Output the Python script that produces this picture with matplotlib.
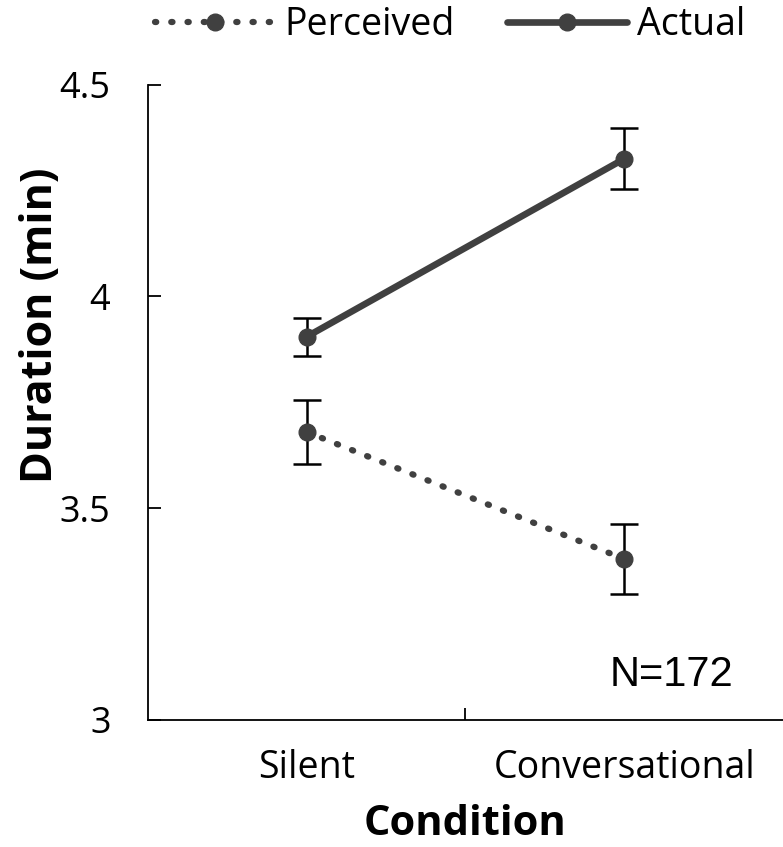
import matplotlib
matplotlib.use("Agg")
import matplotlib.pyplot as plt
import numpy as np

categories = ["Silent", "Conversational"]
perceived = [3.68, 3.38]
perceived_err = [0.075, 0.083]
actual = [3.905, 4.325]
actual_err = [0.045, 0.072]
yticks = [3, 3.5, 4, 4.5]
ytick_labels = ["3", "3.5", "4", "4.5"]

plt.rcParams['font.family'] = ['Open Sans', 'DejaVu Sans']
col = '#404040'

fig = plt.figure(figsize=(7.83, 8.47), dpi=100)
ax = fig.add_axes([0.189, 0.150, 0.811, 0.750])

x = np.arange(len(categories)) + 0.5

ax.errorbar(x, perceived, yerr=perceived_err, fmt='none', ecolor='black',
            elinewidth=1.8, capsize=10, capthick=1.8, zorder=2)
ax.errorbar(x, actual, yerr=actual_err, fmt='none', ecolor='black',
            elinewidth=1.8, capsize=10, capthick=1.8, zorder=2)
lp, = ax.plot(x, perceived, color=col, lw=4.5, linestyle=(0, (0.2, 2.4)),
              dash_capstyle='round', marker='o', markersize=12, zorder=3,
              label='Perceived')
la, = ax.plot(x, actual, color=col, lw=4.8, solid_capstyle='round',
              marker='o', markersize=12, zorder=3, label='Actual')

ax.set_xlim(0, 2)
ax.set_ylim(3, 4.5)
ax.set_yticks(yticks)
ax.set_yticklabels(ytick_labels)
ax.set_xticks([1])
ax.set_xticklabels([])
ax.set_xticks(x, minor=True)
ax.set_xticklabels(categories, minor=True)
ax.tick_params(axis='x', which='minor', length=0, labelsize=27, pad=21)
ax.tick_params(axis='x', which='major', direction='in', length=9, width=1.3)
ax.tick_params(axis='y', direction='in', length=9, width=1.3, labelsize=26, pad=27)

ax.spines['top'].set_visible(False)
ax.spines['right'].set_visible(False)
ax.spines['left'].set_linewidth(1.3)
ax.spines['bottom'].set_linewidth(1.3)

ax.set_ylabel('Duration (min)', fontsize=31, fontweight='bold')
ax.yaxis.set_label_coords(-0.135, 0.622)
ax.set_xlabel('Condition', fontsize=30, fontweight='bold', labelpad=12)

ax.text(1.65, 3.106, 'N=172', fontsize=30, ha='center', va='center',
        family=['Liberation Sans', 'DejaVu Sans'])

fig.legend(handles=[lp, la], loc='center', bbox_to_anchor=(450/783, 1 - 25/847),
           ncol=2, frameon=False, fontsize=27, handlelength=3.2,
           columnspacing=1.4, handletextpad=0.25, borderpad=0, borderaxespad=0)

fig.savefig('out.png', dpi=100)
